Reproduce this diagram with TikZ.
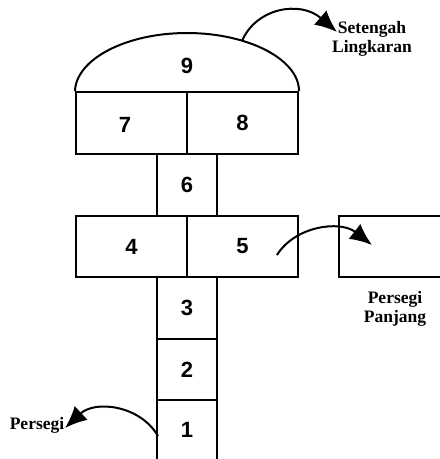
\documentclass[tikz,border=0pt]{standalone}
\usepackage{fontspec}
\setmainfont{Liberation Serif}
\newfontfamily\numfont{Liberation Sans}
\usetikzlibrary{arrows.meta}
\begin{document}
\begin{tikzpicture}[x=1pt,y=-1pt,
  line width=2pt,
  numfnt/.style={font=\numfont\bfseries\fontsize{22}{26}\selectfont},
  box/.style={draw, line width=2pt, inner sep=0pt, minimum width=111pt, minimum height=62pt, numfnt},
  colbox/.style={box, minimum width=60pt},
  lbl/.style={font=\bfseries\fontsize{17.5}{19}\selectfont, align=center, inner sep=0pt},
  curvearrow/.style={line width=2pt, -{Latex[length=22pt,width=19pt]}}]
\useasboundingbox (0,0) rectangle (440,459);
% boxes
\node[box] (n7) at (131.5,123) {};
\node[numfnt] (t7) at (125,125) {7};
\node[box] (n8) at (242.5,123) {8};
\node[colbox] (n6) at (187,185) {6};
\node[box, minimum height=61pt] (n4) at (131.5,246.5) {4};
\node[box, minimum height=61pt] (n5) at (242.5,246.5) {5};
\node[colbox] (n3) at (187,308) {3};
\node[colbox, minimum height=61pt] (n2) at (187,369.5) {2};
\node[colbox, minimum height=61pt] (n1) at (187,430.5) {};
\node[numfnt] (t1) at (187,430) {1};
\node[box, minimum height=61pt] (rp) at (394.5,246.5) {};
% dome
\draw (n7.north west) .. controls (76,59.4) and (125.7,33) .. (187,33)
      .. controls (248.3,33) and (n8.north east |- 0,59.4) .. (n8.north east);
\node[numfnt] (n9) at (187,66) {9};
% labels
\node[lbl] (lsl) at (372,39) {Setengah\\Lingkaran};
\node[lbl] (lpp) at (395,309) {Persegi\\Panjang};
\node[lbl] (lp) at (37,425) {Persegi};
% arrows
\coordinate (a1s) at (242,41);
\coordinate (a1e) at (337,32);
\coordinate (a2s) at (277,255);
\coordinate (a2e) at (372,245);
\coordinate (a3s) at (158,436);
\coordinate (a3e) at (65,428);
\draw[curvearrow] (a1s) .. controls (256,8) and (300,0) .. (a1e);
\draw[curvearrow] (a2s) .. controls (295,226) and (340,220) .. (a2e);
\draw[curvearrow] (a3s) .. controls (140,405) and (95,400) .. (a3e);
\end{tikzpicture}
\end{document}
